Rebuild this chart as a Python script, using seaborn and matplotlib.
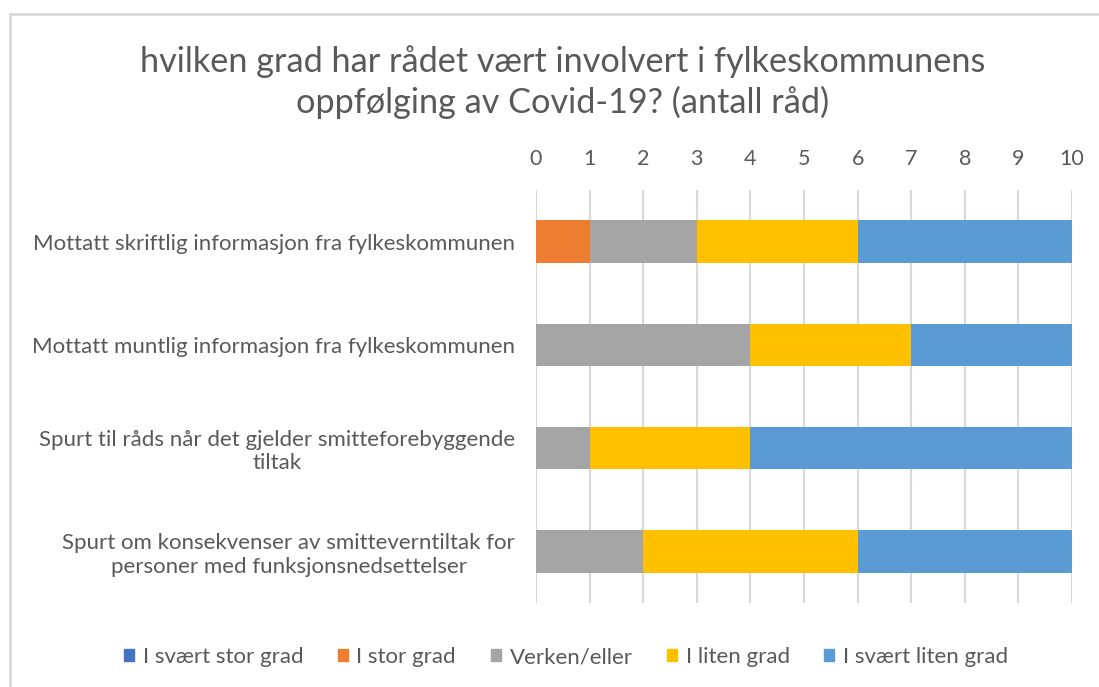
import matplotlib
matplotlib.use("Agg")
import matplotlib.pyplot as plt
import matplotlib.patches as mpatches
import seaborn as sns
import pandas as pd
import numpy as np

# Response categories and counts per statement (number of councils)
statements = [
    "Mottatt skriftlig informasjon fra fylkeskommunen",
    "Mottatt muntlig informasjon fra fylkeskommunen",
    "Spurt til råds når det gjelder smitteforebyggende\ntiltak",
    "Spurt om konsekvenser av smitteverntiltak for\npersoner med funksjonsnedsettelser",
]
levels = ["I svært stor grad", "I stor grad", "Verken/eller", "I liten grad", "I svært liten grad"]
svaert_stor = [0, 0, 0, 0]
stor = [1, 0, 0, 0]
verken = [2, 4, 1, 2]
liten = [3, 3, 3, 4]
svaert_liten = [4, 3, 6, 4]
colors = ["#4472C4", "#ED7D31", "#A5A5A5", "#FFC000", "#5B9BD5"]
ticks = list(range(0, 11))

sns.set_theme(style="white")
plt.rcParams["font.family"] = ["Lato", "DejaVu Sans"]
text_color = "#595959"

fig = plt.figure(figsize=(10.99, 6.87), dpi=100)
W, H = 1099, 687
ax = fig.add_axes([536 / W, 1 - 603 / H, (1072 - 536) / W, (603 - 190) / H])

series = [svaert_stor, stor, verken, liten, svaert_liten]
cum = np.cumsum(np.array(series, dtype=float), axis=0)

# Stacked bars: draw cumulative totals from the widest down
for i in range(len(levels) - 1, -1, -1):
    df = pd.DataFrame({"statement": statements, "value": cum[i]})
    sns.barplot(data=df, x="value", y="statement", color=colors[i], orient="h",
                width=0.41, saturation=1, ax=ax, zorder=3, linewidth=0)

ax.set_xlim(0, 10)
ax.set_ylim(3.5, -0.5)
ax.set_xticks(ticks)
ax.xaxis.tick_top()
ax.tick_params(axis="x", length=0, pad=15, labelsize=15.5, labelcolor=text_color)
ax.tick_params(axis="y", length=0, pad=15, labelsize=16, labelcolor=text_color)
for lbl in ax.get_yticklabels():
    lbl.set_multialignment("center")
ax.set_xlabel("")
ax.set_ylabel("")
ax.grid(axis="x", color="#d9d9d9", linewidth=1.5, zorder=0)
ax.grid(axis="y", visible=False)
for s in ax.spines.values():
    s.set_visible(False)

fig.text(563 / W, 1 - 82 / H,
         "hvilken grad har rådet vært involvert i fylkeskommunens\noppfølging av Covid-19? (antall råd)",
         ha="center", va="center", fontsize=24.7, color=text_color, linespacing=1.28)

handles = [mpatches.Patch(color=c, label=l) for c, l in zip(colors, levels)]
fig.legend(handles=handles, loc="center", bbox_to_anchor=(566 / W, 1 - 657 / H),
           ncol=5, frameon=False, fontsize=16, labelcolor=text_color,
           handlelength=0.45, handleheight=0.45, handletextpad=0.4, columnspacing=1.55)

# Chart frame edges
fig.add_artist(plt.Line2D([9.5 / W, 9.5 / W], [0, 1 - 14 / H], color="#d9d9d9", linewidth=2,
                          transform=fig.transFigure))
fig.add_artist(plt.Line2D([9.5 / W, 1], [1 - 14 / H, 1 - 14 / H], color="#d9d9d9", linewidth=2,
                          transform=fig.transFigure))

fig.savefig("out.png", dpi=100, facecolor="white")
